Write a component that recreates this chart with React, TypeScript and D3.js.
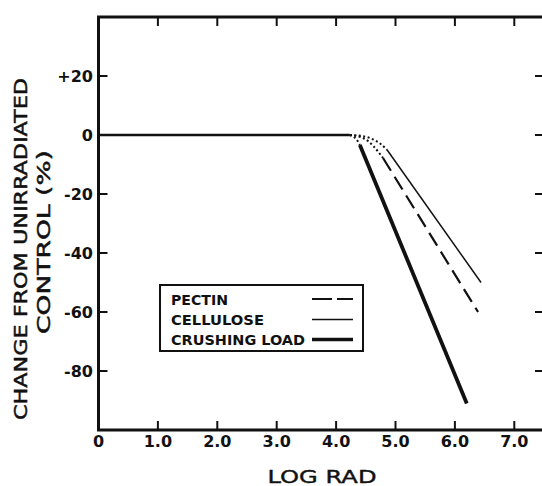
import React from "react";
import * as d3 from "d3";

const xTicks = [0, 1, 2, 3, 4, 5, 6, 7];
const xTickLabels = ["0", "1.0", "2.0", "3.0", "4.0", "5.0", "6.0", "7.0"];
const yTicks = [20, 0, -20, -40, -60, -80];
const yTickLabels = ["+20", "0", "-20", "-40", "-60", "-80"];

// common flat part
const flatX = [0, 4.23];
const flatY = [0, 0];

// transition (dotted) parts
const crushDotX = [4.23, 4.33, 4.4];
const crushDotY = [0, -1.2, -3.4];
const pectinDotX = [4.23, 4.45, 4.63, 4.79];
const pectinDotY = [0, -1.0, -3.8, -7.8];
const celluDotX = [4.23, 4.5, 4.72, 4.86];
const celluDotY = [0, -0.6, -2.6, -5.1];

// main parts
const crushX = [4.4, 6.2];
const crushY = [-3.4, -91];
const pectinX = [4.79, 6.39];
const pectinY = [-7.8, -60];
const celluX = [4.86, 6.44];
const celluY = [-5.1, -50];

const legendLabels = ["PECTIN", "CELLULOSE", "CRUSHING LOAD"];

const W = 542;
const H = 486;

export default function App() {
  const x = d3.scaleLinear().domain([0, 7.5]).range([98.5, 544]);
  const y = d3.scaleLinear().domain([-100, 40]).range([430, 17]);
  const pts = (xs: number[], ys: number[]) => xs.map((v, i) => [v, ys[i]] as [number, number]);
  const straight = d3
    .line<[number, number]>()
    .x((d) => x(d[0]))
    .y((d) => y(d[1]));
  const curved = d3
    .line<[number, number]>()
    .x((d) => x(d[0]))
    .y((d) => y(d[1]))
    .curve(d3.curveNatural);

  const x0 = x(0);
  const x1 = x(7.5);
  const yTop = y(40);
  const yBot = y(-100);
  const font = "'DejaVu Sans', sans-serif";

  const legendRows = [
    { label: legendLabels[0], yy: 299, dash: "20 5", w: 2.2 },
    { label: legendLabels[1], yy: 319.5, dash: "none", w: 1.5 },
    { label: legendLabels[2], yy: 339.5, dash: "none", w: 3.5 },
  ];
  const textLens = [57, 93, 134];

  return (
    <svg
      width={W}
      height={H}
      style={{ position: "absolute", left: 0, top: 0, background: "#fff" }}
    >
      <rect x={0} y={0} width={W} height={H} fill="#fff" />
      {/* frame */}
      <path
        d={`M${x0},${yBot} L${x0},${yTop} L${x1},${yTop} L${x1},${yBot} Z`}
        fill="none"
        stroke="#111"
        strokeWidth={3}
      />
      {/* x ticks */}
      {xTicks.slice(1).map((t) => (
        <g key={"xt" + t}>
          <line x1={x(t)} x2={x(t)} y1={yBot} y2={yBot - 9} stroke="#111" strokeWidth={2} />
          <line x1={x(t)} x2={x(t)} y1={yTop} y2={yTop + 9} stroke="#111" strokeWidth={2} />
        </g>
      ))}
      {xTicks.map((t, i) => (
        <text
          key={"xl" + t}
          x={x(t)}
          y={447}
          textAnchor="middle"
          fontFamily={font}
          fontWeight="bold"
          fontSize={16}
          fill="#111"
        >
          {xTickLabels[i]}
        </text>
      ))}
      {/* y ticks */}
      {yTicks.map((t) => (
        <g key={"yt" + t}>
          <line x1={x0} x2={x0 + 9} y1={y(t)} y2={y(t)} stroke="#111" strokeWidth={2} />
          <line x1={x1} x2={x1 - 9} y1={y(t)} y2={y(t)} stroke="#111" strokeWidth={2} />
        </g>
      ))}
      {yTicks.map((t, i) => (
        <text
          key={"yl" + t}
          x={93}
          y={y(t) + 6}
          textAnchor="end"
          fontFamily={font}
          fontWeight="bold"
          fontSize={16}
          fill="#111"
        >
          {yTickLabels[i]}
        </text>
      ))}
      {/* axis titles */}
      <text
        x={322}
        y={483}
        textAnchor="middle"
        fontFamily={font}
        fontSize={18}
        fill="#111"
        stroke="#111"
        strokeWidth={0.4}
        textLength={109}
        lengthAdjust="spacingAndGlyphs"
      >
        LOG  RAD
      </text>
      <text
        transform="translate(27,249) rotate(-90)"
        textAnchor="middle"
        fontFamily={font}
        fontSize={18.5}
        fill="#111"
        stroke="#111"
        strokeWidth={0.5}
        textLength={342}
        lengthAdjust="spacingAndGlyphs"
      >
        CHANGE FROM UNIRRADIATED
      </text>
      <text
        transform="translate(50,242) rotate(-90)"
        textAnchor="middle"
        fontFamily={font}
        fontSize={18.5}
        fill="#111"
        stroke="#111"
        strokeWidth={0.5}
        textLength={184}
        lengthAdjust="spacingAndGlyphs"
      >
        CONTROL (%)
      </text>

      {/* data */}
      <path d={straight(pts(flatX, flatY)) || ""} fill="none" stroke="#111" strokeWidth={2.5} />
      <path d={curved(pts(crushDotX, crushDotY)) || ""} fill="none" stroke="#111" strokeWidth={2} strokeDasharray="2 2.5" />
      <path d={curved(pts(pectinDotX, pectinDotY)) || ""} fill="none" stroke="#111" strokeWidth={2} strokeDasharray="2 2.5" />
      <path d={curved(pts(celluDotX, celluDotY)) || ""} fill="none" stroke="#111" strokeWidth={2} strokeDasharray="2 2.5" />
      <path d={straight(pts(crushX, crushY)) || ""} fill="none" stroke="#111" strokeWidth={3.8} />
      <path d={straight(pts(pectinX, pectinY)) || ""} fill="none" stroke="#111" strokeWidth={2.2} strokeDasharray="15 7" />
      <path d={straight(pts(celluX, celluY)) || ""} fill="none" stroke="#111" strokeWidth={1.5} />

      {/* legend */}
      <rect x={160} y={285} width={203} height={66} fill="#fff" stroke="#111" strokeWidth={2} />
      {legendRows.map((r, i) => (
        <g key={"lg" + i}>
          <text
            x={171}
            y={r.yy + 5.5}
            fontFamily={font}
            fontWeight="bold"
            fontSize={14}
            fill="#111"
            textLength={textLens[i]}
            lengthAdjust="spacingAndGlyphs"
          >
            {r.label}
          </text>
          <line
            x1={312}
            x2={353}
            y1={r.yy}
            y2={r.yy}
            stroke="#111"
            strokeWidth={r.w}
            strokeDasharray={r.dash}
          />
        </g>
      ))}
    </svg>
  );
}
